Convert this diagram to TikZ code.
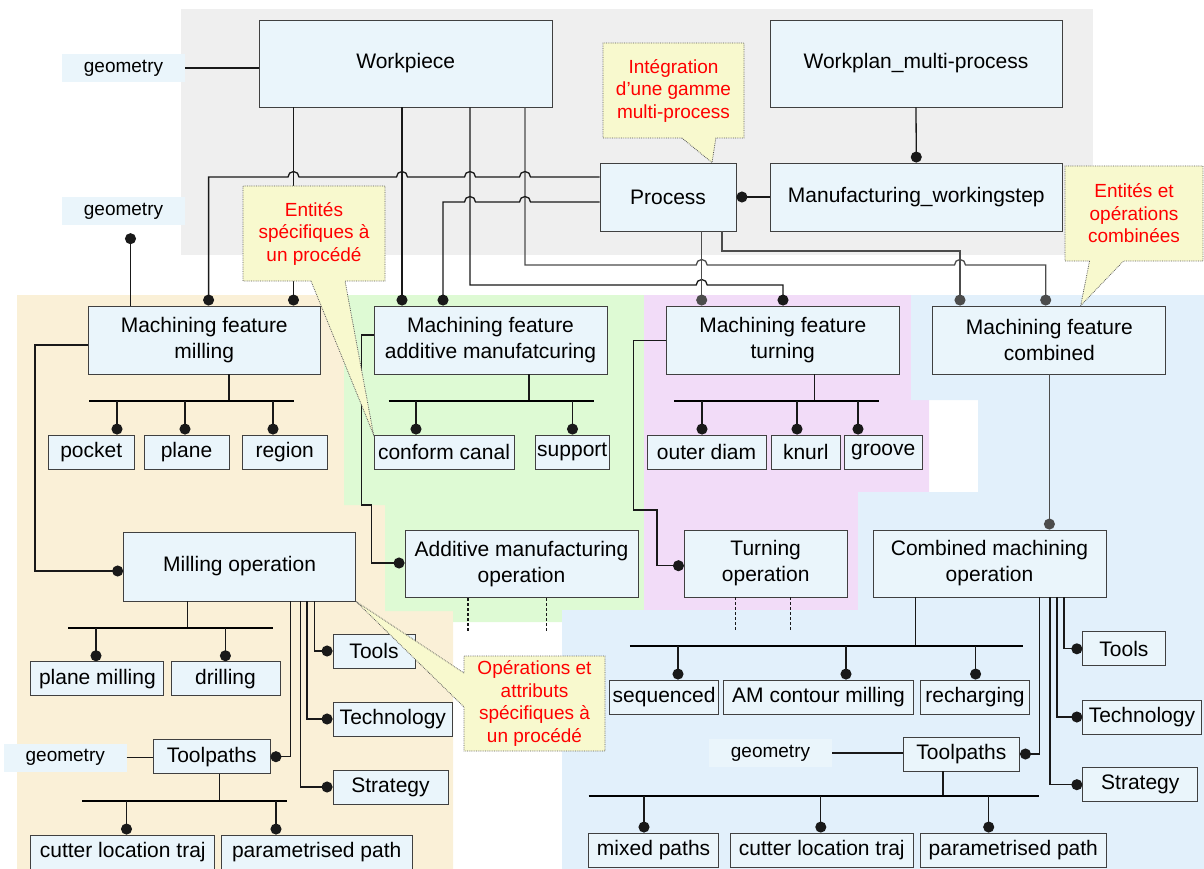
\documentclass[tikz,border=0pt]{standalone}
\usepackage{fontspec}
\setmainfont{Liberation Sans}
\usepackage{xcolor}
\usetikzlibrary{arrows.meta,positioning,calc,shapes.callouts}
\definecolor{boxfill}{RGB}{234,245,251}
\definecolor{notefill}{RGB}{248,249,206}
\definecolor{bggray}{RGB}{239,239,239}
\definecolor{bgtan}{RGB}{250,240,215}
\definecolor{bggreen}{RGB}{222,250,212}
\definecolor{bgpink}{RGB}{242,220,248}
\definecolor{bgblue}{RGB}{226,240,251}
\tikzset{
  box/.style={draw=black!75,fill=boxfill,line width=0.9pt,align=center,inner sep=1pt,font=\fontsize{21}{26}\selectfont},
  geo/.style={fill=boxfill,inner sep=0pt,font=\fontsize{19}{22}\selectfont},
  note/.style={rectangle callout,draw=black!65,densely dotted,line width=0.8pt,fill=notefill,text=red,align=center,inner sep=0pt,callout pointer width=34pt,font=\fontsize{19}{22.5}\selectfont},
  sz/.style 2 args={minimum width=#1pt,minimum height=#2pt},
  con/.style={line width=1.3pt,draw=black!90},
  gcon/.style={con,draw=black!70},
  bus/.style={line width=2pt,draw=black},
  ball/.style={-{Circle[length=11pt,width=11pt]}},
}

\begin{document}
\begin{tikzpicture}[x=1pt,y=-1pt]
  \useasboundingbox (0,0) rectangle (1204,869);
  \fill[bggray] (181,9) rectangle (1093,255);
  \fill[bgtan] (17,295) -- (344,295) -- (344,505) -- (385,505) -- (385,611) -- (453,611) -- (453,869) -- (17,869) -- cycle;
  \fill[bggreen] (344,295) -- (644,295) -- (644,610) -- (562,610) -- (562,622) -- (453,622) -- (453,611) -- (385,611) -- (385,505) -- (344,505) -- cycle;
  \fill[bgpink] (644,295) -- (911,295) -- (911,400) -- (929,400) -- (929,492) -- (858,492) -- (858,610) -- (644,610) -- cycle;
  \fill[bgblue] (911,295) -- (1204,295) -- (1204,869) -- (562,869) -- (562,610) -- (858,610) -- (858,492) -- (978,492) -- (978,400) -- (911,400) -- cycle;

  \node[box,sz={292.5}{87}] (wp) at (405.75,63.5) {Workpiece};
  \node[box,sz={292}{87}] (wpl) at (916,63.5) {Workplan\_multi-process};
  \node[box,sz={136}{68}] (pr) at (668,197) {Process};
  \node[box,sz={292.5}{68}] (mws) at (916.3,197) {Manufacturing\_workingstep};
  \node[geo,sz={123}{28}] (g1) at (123.5,68) {geometry};
  \node[geo,sz={123}{28}] (g2) at (123.5,211) {geometry};

  \node[box,sz={232.5}{68}] (mfm) at (204.25,340) {Machining feature\\milling};
  \node[box,sz={233}{68}] (mfa) at (490.5,340) {Machining feature\\additive manufatcuring};
  \node[box,sz={232.5}{68}] (mft) at (782.75,340) {Machining feature\\turning};
  \node[box,sz={233}{68}] (mfc) at (1049.4,340) {Machining feature\\combined};

  \node[box,sz={85.5}{34}] (pk) at (91.25,452) {pocket};
  \node[box,sz={85}{34}] (pl) at (186.5,452) {plane};
  \node[box,sz={85.5}{34}] (rg) at (284.75,452) {region};
  \node[box,sz={140}{34}] (cc) at (444,452) {conform canal};
  \node[box,sz={74.5}{34}] (sp) at (572.25,452) {support};
  \node[box,sz={119}{34}] (od) at (706.5,452) {outer diam};
  \node[box,sz={69.5}{34}] (kn) at (805.75,452) {knurl};
  \node[box,sz={78.4}{34}] (gr) at (883.2,452) {groove};

  \node[box,sz={232}{69}] (mop) at (239.6,566.5) {Milling operation};
  \node[box,sz={233}{67}] (amop) at (521.5,564.4) {Additive manufacturing\\operation};
  \node[box,sz={162.6}{67}] (top) at (765.7,563.5) {Turning\\operation};
  \node[box,sz={233}{67}] (cop) at (989.5,563.5) {Combined machining\\operation};

  \node[box,sz={133}{34}] (pm) at (97.4,678.7) {plane milling};
  \node[box,sz={109}{34}] (dr) at (225.5,678.7) {drilling};
  \node[box,sz={82}{34}] (tl1) at (374,651) {Tools};
  \node[box,sz={119.7}{34}] (te1) at (392.85,719) {Technology};
  \node[box,sz={115}{34}] (st1) at (390.5,787) {Strategy};
  \node[box,sz={116.6}{34}] (tp1) at (211.7,756.7) {Toolpaths};
  \node[geo,sz={122.5}{28}] (g3) at (65.25,757.8) {geometry};
  \node[box,sz={184}{34}] (cl1) at (122.75,852) {cutter location traj};
  \node[box,sz={190.6}{34}] (pp1) at (316.7,852) {parametrised path};

  \node[box,sz={108.8}{34}] (sq) at (664.1,697) {sequenced};
  \node[box,sz={190}{34}] (am) at (818.55,697) {AM contour milling};
  \node[box,sz={108.8}{34}] (rc) at (975,697) {recharging};
  \node[box,sz={82.2}{34}] (tl2) at (1123.9,648.8) {Tools};
  \node[box,sz={118.2}{34}] (te2) at (1141.9,717) {Technology};
  \node[box,sz={115}{34}] (st2) at (1140.3,784.7) {Strategy};
  \node[box,sz={116.2}{34}] (tp2) at (961.4,754) {Toolpaths};
  \node[geo,sz={123}{28}] (g4) at (770.5,753) {geometry};
  \node[box,sz={129.8}{34}] (mx) at (653.6,850) {mixed paths};
  \node[box,sz={183.6}{34}] (cl2) at (821.8,850) {cutter location traj};
  \node[box,sz={185.4}{34}] (pp2) at (1013.3,850) {parametrised path};

  \draw[con] (g1.east) -- (g1.east -| wp.west);
  \draw[con,ball] (wpl.south) -- (mws.north);
  \draw[con,ball] (mws.west) -- (pr.east);
  \draw[con,ball] (293.5,0 |- wp.south) -- (293.5,0 |- mfm.north);
  \draw[con,ball] (402,0 |- wp.south) -- (402,0 |- mfa.north);
  \draw[con,ball] (470,0 |- wp.south) -- (470,285) -- (696.2,285) arc(180:0:5.5pt) -- (783,285) -- (783,0 |- mft.north);
  \draw[gcon,ball] (525,0 |- wp.south) -- (525,265) -- (696.2,265) arc(180:0:5.5pt) -- (954.5,265) arc(180:0:5.5pt) -- (1045.7,265) -- (1045.7,0 |- mfc.north);
  \draw[con,ball] (pr.west |- 0,177) -- (530.5,177) arc(0:180:5.5pt) -- (475.5,177) arc(0:180:5.5pt) -- (407.5,177) arc(0:180:5.5pt) -- (299,177) arc(0:180:5.5pt) -- (208.6,177) -- (208.6,0 |- mfm.north);
  \draw[con,ball] (pr.west |- 0,202) -- (530.5,202) arc(0:180:5.5pt) -- (475.5,202) arc(0:180:5.5pt) -- (443,202) -- (443,0 |- mfa.north);
  \draw[gcon,ball] (701.7,0 |- pr.south) -- (701.7,0 |- mft.north);
  \draw[gcon,ball] (722,0 |- pr.south) -- (722,251) -- (960,251) -- (960,0 |- mfc.north);
  \draw[con,ball,shorten >=8pt] (130.5,0 |- mfm.north) -- (130.5,0 |- g2.south);

  \draw[con] (229,0 |- mfm.south) -- (229,401);
  \draw[bus] (89,401) -- (293.5,401);
  \foreach \x/\n in {117/pk,185/pl,273/rg} \draw[con,ball] (\x,401) -- (\x,401 |- \n.north);
  \draw[con] (529,0 |- mfa.south) -- (529,401);
  \draw[bus] (388.5,401) -- (594,401);
  \foreach \x/\n in {416/cc,572.5/sp} \draw[con,ball] (\x,401) -- (\x,401 |- \n.north);
  \draw[con] (814.8,0 |- mft.south) -- (814.8,401);
  \draw[bus] (674,401) -- (878.8,401);
  \foreach \x/\n in {702/od,797/kn,858/gr} \draw[con,ball] (\x,401) -- (\x,401 |- \n.north);

  \draw[con,ball] (mfm.west |- 0,345) -- (35,345) |- (mop.west |- 0,571);
  \draw[con,ball] (mfa.west |- 0,335) -- (361.5,335) -- (361.5,505) -- (371.5,505) |- (amop.west |- 0,563);
  \draw[con,ball] (mft.west |- 0,340.7) -- (633.8,340.7) -- (633.8,510) -- (657,510) |- (top.west |- 0,565.7);
  \draw[gcon,ball] (mfc.south) -- (mfc.south |- cop.north);
  \foreach \x in {468,546.4} \draw[con,densely dashed] (\x,0 |- amop.south) -- ++(0,34);
  \foreach \x in {735.7,790.7} \draw[con,densely dashed] (\x,0 |- top.south) -- ++(0,34);

  \draw[con] (187.8,0 |- mop.south) -- (187.8,627.7);
  \draw[bus] (68.4,627.7) -- (273.2,627.7);
  \foreach \x/\n in {96/pm,225.4/dr} \draw[con,ball] (\x,627.7) -- (\x,627.7 |- \n.north);
  \draw[con,ball] (314.4,0 |- mop.south) |- (tl1.west);
  \draw[con,ball] (307,0 |- mop.south) |- (te1.west);
  \draw[con,ball] (300.5,0 |- mop.south) |- (st1.west);
  \draw[con,ball] (290.6,0 |- mop.south) |- (tp1.east);
  \draw[con] (g3.east) -- (g3.east -| tp1.west);
  \draw[con] (219.8,0 |- tp1.south) -- (219.8,800.7);
  \draw[bus] (82,800.7) -- (286.7,800.7);
  \foreach \x/\n in {126.5/cl1,276/pp1} \draw[con,ball] (\x,800.7) -- (\x,800.7 |- \n.north);

  \draw[con] (915.6,0 |- cop.south) -- (915.6,646);
  \draw[bus] (629.8,646) -- (1023,646);
  \foreach \x/\n in {678/sq,846/am,975.6/rc} \draw[con,ball] (\x,646) -- (\x,646 |- \n.north);
  \draw[con,ball] (1064,0 |- cop.south) |- (tl2.west);
  \draw[con,ball] (1057,0 |- cop.south) |- (te2.west);
  \draw[con,ball] (1050,0 |- cop.south) |- (st2.west);
  \draw[con,ball] (1039.7,0 |- cop.south) |- (tp2.east);
  \draw[con] (g4.east) -- (g4.east -| tp2.west);
  \draw[con] (943,0 |- tp2.south) -- (943,796);
  \draw[bus] (588.7,796) -- (1039,796);
  \foreach \x/\n in {644/mx,820.8/cl2,988.7/pp2} \draw[con,ball] (\x,796) -- (\x,796 |- \n.north);

  \node[note,sz={141}{95},callout absolute pointer={(712,0 |- pr.north)}] (n1) at (673.5,90.5) {Intégration\\d’une gamme\\multi-process};
  \node[note,sz={142}{95},callout absolute pointer={(cc.north west)}] (n2) at (314,233.5) {Entités\\spécifiques à\\un procédé};
  \node[note,sz={138}{95},callout absolute pointer={(1080.7,0 |- mfc.north)}] (n3) at (1134,213.5) {Entités et\\opérations\\combinées};
  \node[note,sz={141}{95},callout absolute pointer={(mop.south east)}] (n4) at (534.5,703.5) {Opérations et\\attributs\\spécifiques à\\un procédé};
\end{tikzpicture}
\end{document}
